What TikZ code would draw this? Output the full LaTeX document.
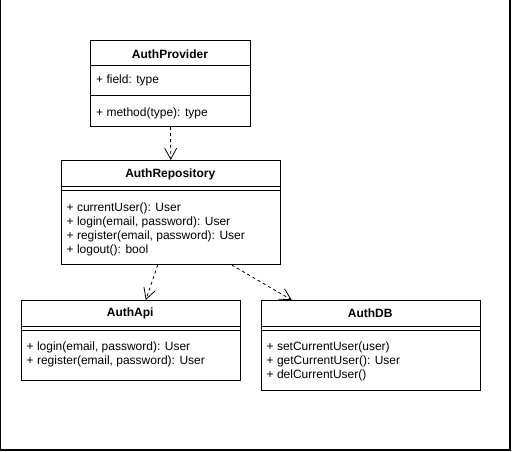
\documentclass[tikz,border=0pt]{standalone}
\usepackage{fontspec}
\setmainfont{Liberation Sans}
\usetikzlibrary{arrows.meta}
\tikzset{
classbox/.style={draw,line width=1pt,anchor=north west,inner sep=0pt},
classname/.style={inner sep=0pt,font=\fontsize{12}{14}\selectfont\bfseries},
member/.style={anchor=west,inner sep=0pt,text height=8.6pt,text depth=2.5pt,font=\fontsize{12}{14}\selectfont},
sepline/.style={line width=1pt},
dep/.style={dashed,line width=0.8pt,-{Straight Barb[length=11pt,width=12pt,line width=0.8pt]}}
}
\begin{document}
\begin{tikzpicture}[x=1pt,y=-1pt]
\pgfmathsetmacro{\krow}{14}
\pgfmathsetmacro{\kin}{6}
\useasboundingbox (0,0) rectangle (512,452);
\draw[line width=1.5pt] (0.5,-3) rectangle (510,450);
% AuthProvider
\node[classbox,minimum width=160pt,minimum height=86pt] (prov) at (90,40) {};
\node[classname] (provT) at (170,54) {AuthProvider};
\draw[sepline] (prov.west |- 0,66) -- (prov.east |- 0,66);
\draw[sepline] (prov.west |- 0,96) -- (prov.east |- 0,96);
\node[member] (provF) at (90+\kin,80) {+ field: type};
\node[member] (provM) at (90+\kin,113) {+ method(type): type};
% AuthRepository
\node[classbox,minimum width=219.5pt,minimum height=104pt] (repo) at (60.5,160) {};
\node[classname] (repoT) at (170.25,174) {AuthRepository};
\draw[sepline] (repo.west |- 0,186.5) -- (repo.east |- 0,186.5);
\draw[sepline] (repo.west |- 0,190.5) -- (repo.east |- 0,190.5);
\foreach \ky/\mlb in {0/{+ currentUser(): User},1/{+ login(email, password): User},2/{+ register(email, password): User},3/{+ logout(): bool}}{\node[member] (repoM\ky) at (60.5+\kin,208+\ky*\krow) {\mlb};}
% AuthApi
\node[classbox,minimum width=219.5pt,minimum height=80pt] (api) at (20.5,300) {};
\node[classname] (apiT) at (130.25,313) {AuthApi};
\draw[sepline] (api.west |- 0,326) -- (api.east |- 0,326);
\draw[sepline] (api.west |- 0,330) -- (api.east |- 0,330);
\foreach \ky/\mlb in {0/{+ login(email, password): User},1/{+ register(email, password): User}}{\node[member] (apiM\ky) at (20.5+\kin,347.5+\ky*\krow) {\mlb};}
% AuthDB
\node[classbox,minimum width=219.5pt,minimum height=90pt] (db) at (260.5,300) {};
\node[classname] (dbT) at (370.25,313) {AuthDB};
\draw[sepline] (db.west |- 0,326) -- (db.east |- 0,326);
\draw[sepline] (db.west |- 0,330) -- (db.east |- 0,330);
\foreach \ky/\mlb in {0/{+ setCurrentUser(user)},1/{+ getCurrentUser(): User},2/{+ delCurrentUser()}}{\node[member] (dbM\ky) at (260.5+\kin,347.5+\ky*\krow) {\mlb};}
% dependencies
\draw[dep] (prov.south) -- (repo.north);
\draw[dep] ([xshift=-13pt]repo.south) -- ([xshift=15pt]api.north);
\draw[dep] ([xshift=61pt]repo.south) -- ([xshift=-79pt]db.north);
\end{tikzpicture}
\end{document}
